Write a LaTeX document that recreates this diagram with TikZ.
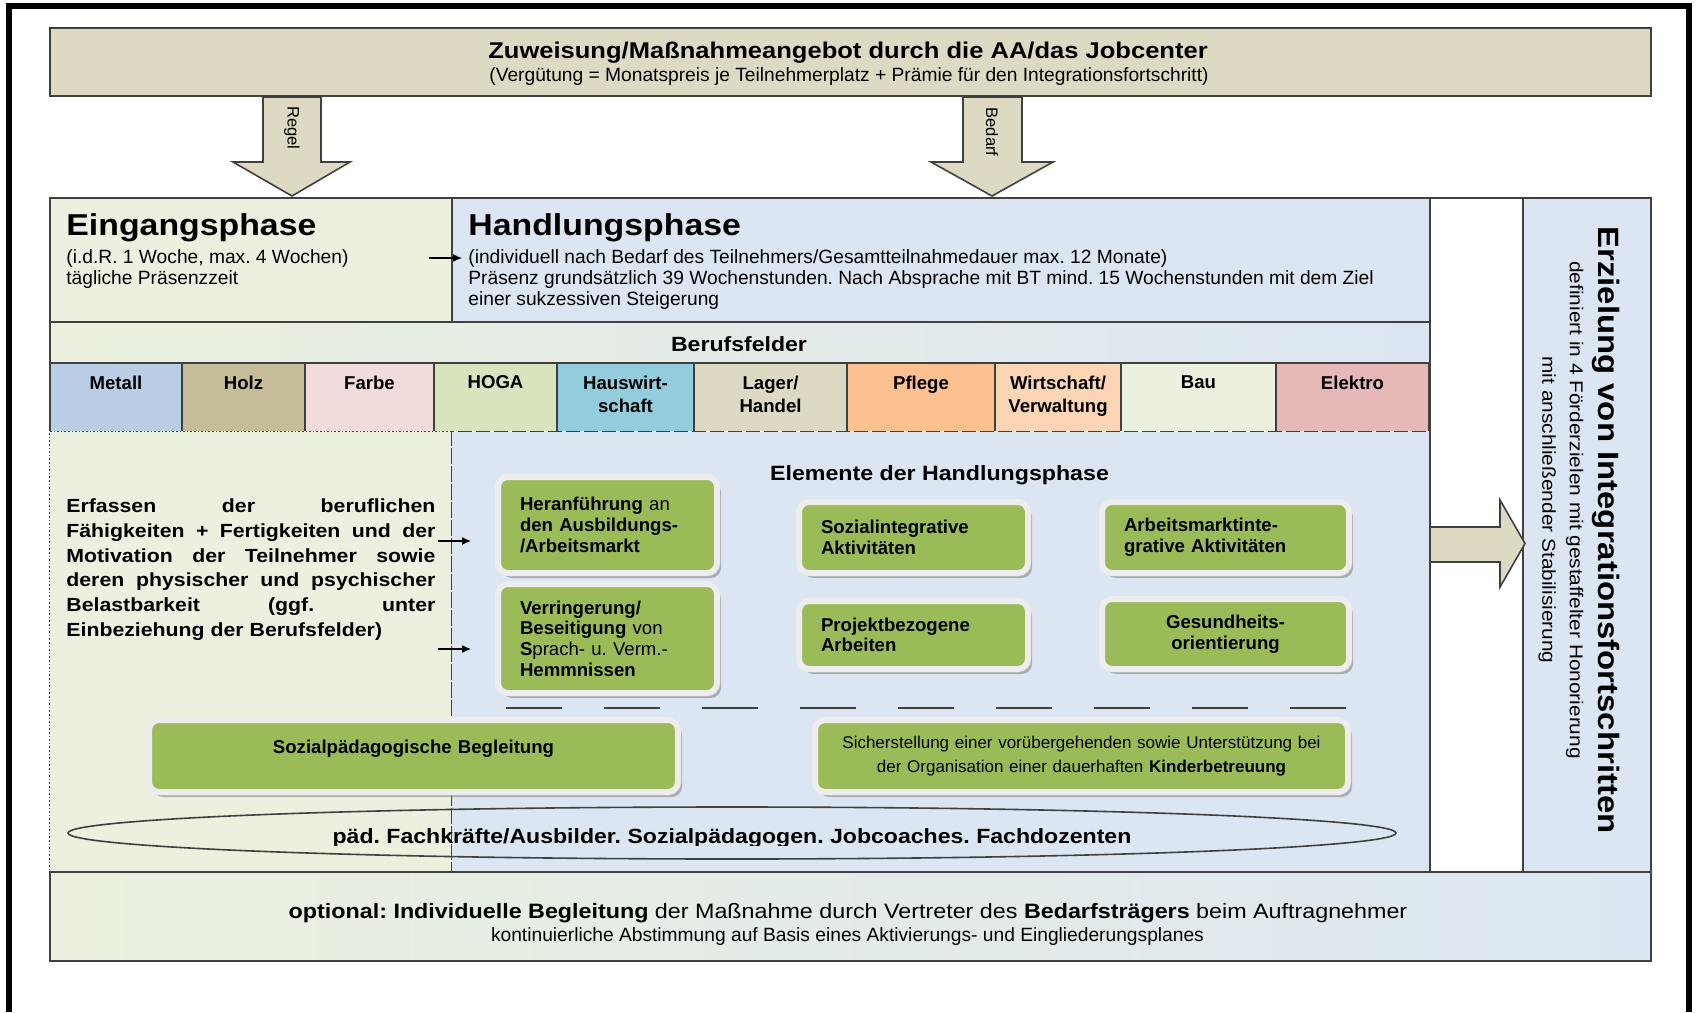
\documentclass[tikz,border=0pt]{standalone}
\usepackage{fontspec}
\setmainfont{Liberation Sans}[FakeStretch=1.12]
\newfontfamily\plainsans{Liberation Sans}
\usetikzlibrary{arrows.meta, shapes.geometric, shadows}
\setlength{\parindent}{0pt}
\frenchspacing

\definecolor{tanfill}{HTML}{DDD9C3}
\definecolor{eingfill}{HTML}{EBF1DE}
\definecolor{handfill}{HTML}{DCE6F2}
\definecolor{elemgreen}{HTML}{9BBB59}
\definecolor{rimgray}{HTML}{404040}
\definecolor{metallc}{HTML}{B9CDE5}
\definecolor{holzc}{HTML}{C4BD97}
\definecolor{farbec}{HTML}{F2DCDB}
\definecolor{hogac}{HTML}{D7E4BD}
\definecolor{hauswc}{HTML}{93CDDD}
\definecolor{lagerc}{HTML}{DDD9C3}
\definecolor{pflegec}{HTML}{FAC090}
\definecolor{wirtc}{HTML}{FCD5B5}
\definecolor{bauc}{HTML}{EBF1DE}
\definecolor{elektroc}{HTML}{E6B9B8}

\newcommand{\fs}[2]{\fontsize{#1}{#2}\selectfont}

\begin{document}
\begin{tikzpicture}[x=0.5pt,y=-0.5pt,>={Latex[length=4.5pt,width=4pt]},
      rim/.style={draw=rimgray,line width=0.8pt,inner sep=0pt,anchor=north west},
      txt/.style={inner sep=0pt,text=black},
      bigtitle/.style={txt,anchor=base west,font=\fs{15.1}{18}\bfseries},
      subtxt/.style={txt,align=left,font=\plainsans\fs{9.6}{10.5}},
      cell/.style={txt,anchor=north,align=center,font=\plainsans\fs{9.3}{11.35}\bfseries},
      elem/.style={fill=elemgreen,draw=white!93!black,line width=3pt,rounded corners=5pt,
        drop shadow={shadow xshift=2pt,shadow yshift=-2.5pt,fill=black!45,opacity=.6},
        inner xsep=11pt,inner ysep=0pt,align=left,text=black,
        font=\plainsans\fs{9.3}{10.3}\bfseries},
      blockarrow/.style={fill=tanfill,draw=rimgray,line width=0.8pt}]
      \useasboundingbox (0,0) rectangle (1696,1012);
      \fill[white] (0,0) rectangle (1696,1012);
      \draw[line width=3pt] (9,1012) -- (9,5.5) -- (1689,5.5) -- (1689,1012);

      % Zuweisung
      \node[rim,fill=tanfill,minimum width=800.5pt,minimum height=34pt] (banner) at (49,27) {};
      \node[txt,anchor=base,font=\fs{11.4}{13}\bfseries] (banner_title) at (848,58.3)
        {Zuweisung/Maßnahmeangebot durch die AA/das Jobcenter};
      \node[subtxt,anchor=base] (banner_sub) at (849,81)
        {(Vergütung = Monatspreis je Teilnehmerplatz + Prämie für den Integrationsfortschritt)};

      \draw[blockarrow] (263,97) -- (321,97) -- (321,162) -- (350,162) -- (292,196)
        -- (233,162) -- (263,162) -- cycle;
      \node[txt,rotate=-90,font=\plainsans\fs{8.3}{9}] (regel) at (292,128) {Regel};
      \draw[blockarrow] (963,97) -- (1022,97) -- (1022,162) -- (1053,162) -- (992,196)
        -- (931,162) -- (963,162) -- cycle;
      \node[txt,rotate=-90,font=\plainsans\fs{8.3}{9}] (bedarf) at (992,132) {Bedarf};

      % Phasen
      \node[rim,fill=eingfill,minimum width=201pt,minimum height=62pt] (eing) at (49,197) {};
      \node[rim,fill=handfill,minimum width=489pt,minimum height=62pt] (hand) at (451,197) {};
      \node[bigtitle] (eing_title) at (66,235.5) {Eingangsphase};
      \node[bigtitle] (hand_title) at (468,235.5) {Handlungsphase};
      \node[subtxt,anchor=west] (eing_sub) at (66,268.7)
        {(i.d.R. 1 Woche, max. 4 Wochen)\\tägliche Präsenzzeit};
      \node[subtxt,anchor=west] (hand_sub) at (468,279.5)
        {(individuell nach Bedarf des Teilnehmers/Gesamtteilnahmedauer max. 12 Monate)\\
         Präsenz grundsätzlich 39 Wochenstunden. Nach Absprache mit BT mind. 15 Wochenstunden mit dem Ziel\\
         einer sukzessiven Steigerung};

      % Berufsfelder
      \node[rim,left color=eingfill,right color=handfill,minimum width=690pt,minimum height=21pt]
        (bf_strip) at (49,321) {};
      \node[txt,anchor=base,font=\fs{10.3}{12}\bfseries] (bf_title) at (739,351) {Berufsfelder};
      \foreach \xa/\xb/\col/\name [count=\i] in {50/182/metallc/Metall, 182/305/holzc/Holz,
          305/434/farbec/Farbe, 434/557/hogac/HOGA, 557/694/hauswc/{Hauswirt-\\schaft},
          694/847/lagerc/{Lager/\\Handel}, 847/995/pflegec/Pflege,
          995/1121/wirtc/{Wirtschaft/\\Verwaltung}, 1121/1276/bauc/Bau, 1276/1429/elektroc/Elektro}
      {
        \fill[\col] (\xa,363) rectangle (\xb,431);
        \draw[draw=rimgray,line width=0.8pt] (\xa,431) -- (\xa,363) -- (\xb,363) -- (\xb,431);
        \node[cell] (bf_\i) at ({(\xa+\xb)/2},375.5) {\name};
      }

      \node[rim,fill=eingfill,densely dotted,line width=0.6pt,minimum width=201pt,minimum height=220pt]
        (eing_low) at (49,431) {};
      \node[rim,fill=handfill,dash pattern=on 7pt off 2pt,line width=0.6pt,minimum width=489pt,
        minimum height=220pt] (hand_low) at (451,431) {};

      \node[txt,anchor=west,text width=184.5pt,align=justify,font=\fs{9.5}{12.35}\bfseries]
        (erfassen) at (66,569.7)
        {Erfassen der beruflichen\linebreak Fähigkeiten + Fertigkeiten und der\linebreak
         Motivation der Teilnehmer sowie\linebreak deren physischer und psychischer\linebreak
         Belastbarkeit (ggf. unter\linebreak Einbeziehung der Berufsfelder)};

      \coordinate (ea_1) at (429,258);
      \coordinate (ea_2) at (462,258);
      \coordinate (ea_3) at (438,541);
      \coordinate (ea_4) at (471,541);
      \coordinate (ea_5) at (438,649);
      \coordinate (ea_6) at (471,649);
      \path[->,line width=0.6pt]
        (ea_1) edge (ea_2)
        (ea_3) edge (ea_4)
        (ea_5) edge (ea_6);

      % Elemente
      \node[txt,anchor=base,font=\fs{10.35}{12}\bfseries] (el_title) at (939.5,480.5)
        {Elemente der Handlungsphase};
      \node[elem,text width=87.5pt,minimum height=48pt] (el_heran) at (607.5,525)
        {Heranführung {\mdseries an}\\den Ausbildungs-\\/Arbeitsmarkt};
      \node[elem,text width=87.5pt,minimum height=54.5pt] (el_verr) at (607.5,638.5)
        {Verringerung/\\Beseitigung {\mdseries von}\\S{\mdseries prach- u. Verm.-}\\Hemmnissen};
      \node[elem,text width=92.5pt,minimum height=35.5pt] (el_sozint) at (913.5,537.5)
        {Sozialintegrative\\Aktivitäten};
      \node[elem,text width=101.5pt,minimum height=35.5pt] (el_arbint) at (1225.5,537.5)
        {Arbeitsmarktinte-\\grative Aktivitäten};
      \node[elem,text width=92.5pt,minimum height=34pt] (el_projekt) at (913.5,635)
        {Projektbezogene\\Arbeiten};
      \node[elem,text width=101.5pt,minimum height=35pt,align=center] (el_gesund) at (1225.5,634)
        {Gesundheits-\\orientierung};
      \draw[rimgray,line width=1pt,dash pattern=on 28pt off 21pt] (506,708) -- (1352,708);
      \node[elem,text width=242.5pt,minimum height=36pt,align=center] (el_sozpaed) at (413.5,756)
        {\raisebox{3.75pt}[\height][\depth]{Sozialpädagogische Begleitung}};
      \node[elem,text width=244.5pt,minimum height=36pt,align=center,
        font=\plainsans\fs{8.5}{12}\mdseries] (el_kinder) at (1081.5,756)
        {Sicherstellung einer vorübergehenden sowie Unterstützung bei\\
         der Organisation einer dauerhaften \textbf{Kinderbetreuung}};

      \node[ellipse,draw=rimgray,line width=0.8pt,minimum width=664pt,minimum height=26pt,
        inner sep=0pt] (staff) at (732,833) {};
      \begin{scope}
        \clip (300,812) rectangle (1200,845.5);
        \node[txt,anchor=base,font=\fs{10.3}{12}\bfseries] (staff_text) at (732,843.3)
          {päd. Fachkräfte/Ausbilder. Sozialpädagogen. Jobcoaches. Fachdozenten};
      \end{scope}

      % Begleitung
      \node[rim,left color=eingfill,right color=handfill,minimum width=800.5pt,minimum height=44.5pt]
        (opt_box) at (49,871) {};
      \node[txt,anchor=base,font=\fs{10.4}{12}] (opt_text) at (848,918.5)
        {\textbf{optional: Individuelle Begleitung} der Maßnahme durch Vertreter des
         \textbf{Bedarfsträgers} beim Auftragnehmer};
      \node[subtxt,anchor=base] (opt_sub) at (847.5,941.5)
        {kontinuierliche Abstimmung auf Basis eines Aktivierungs- und Eingliederungsplanes};

      % Erzielung
      \node[rim,fill=white,minimum width=46.5pt,minimum height=337pt] (gap_col) at (1429,197) {};
      \node[rim,fill=handfill,minimum width=64pt,minimum height=337pt] (erz_box) at (1522,197) {};
      \node[txt,rotate=-90,font=\fs{14.7}{16}\bfseries] (erz_title) at (1606,530)
        {Erzielung von Integrationsfortschritten};
      \node[txt,rotate=-90,align=center,font=\fs{9.3}{13.75}] (erz_sub) at (1561,510)
        {definiert in 4 Förderzielen mit gestaffelter Honorierung\\mit anschließender Stabilisierung};
      \draw[blockarrow] (1430,527) -- (1500,527) -- (1500,500) -- (1525,543.5) -- (1500,587)
        -- (1500,562) -- (1430,562) -- cycle;
    \end{tikzpicture}
\end{document}
